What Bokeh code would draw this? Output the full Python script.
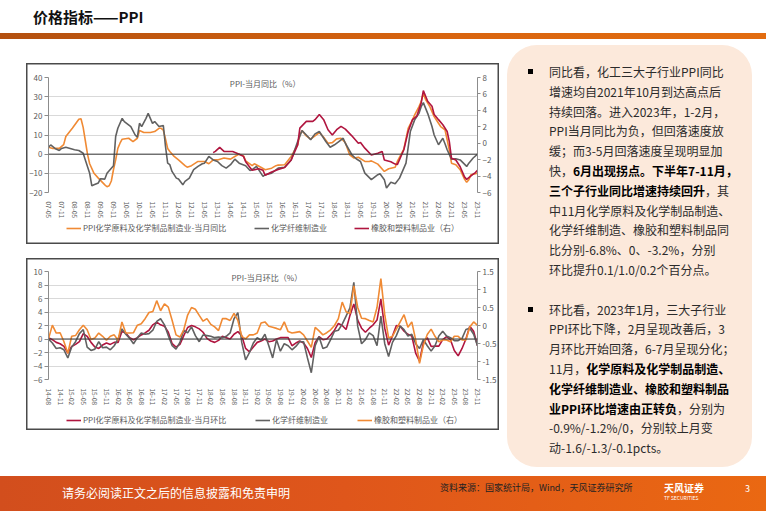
from bokeh.plotting import figure
from bokeh.models import (Range1d, LinearAxis, FixedTicker, Span, Legend, LegendItem,
                          Label, Div, Spacer)
from bokeh.layouts import column, row
from bokeh.embed import file_html
from bokeh.resources import INLINE

FONT = "Noto Sans CJK SC"

# ---------------- top chart: PPI YoY (%) ----------------
yoy_ticks = ["07-05", "07-11", "08-05", "08-11", "09-05", "09-11", "10-05", "10-11", "11-05",
             "11-11", "12-05", "12-11", "13-05", "13-11", "14-05", "14-11", "15-05", "15-11",
             "16-05", "16-11", "17-05", "17-11", "18-05", "18-11", "19-05", "19-11", "20-05",
             "20-11", "21-05", "21-11", "22-05", "22-11", "23-05", "23-11"]

chem_yoy_dates = ["2007-05", "2007-07", "2007-10", "2007-12", "2008-01", "2008-04", "2008-07",
                  "2008-08", "2008-09", "2008-10", "2008-11", "2008-12", "2009-02", "2009-04",
                  "2009-07", "2009-08", "2009-09", "2009-10", "2009-11", "2009-12", "2010-01",
                  "2010-02", "2010-03", "2010-06", "2010-08", "2010-10", "2010-11", "2011-01",
                  "2011-04", "2011-06", "2011-08", "2011-09", "2011-10", "2011-11", "2011-12",
                  "2012-01", "2012-03", "2012-05", "2012-08", "2012-09", "2012-11", "2013-02",
                  "2013-05", "2013-07", "2013-09", "2013-11", "2014-02", "2014-05", "2014-07",
                  "2014-09", "2014-11", "2014-12", "2015-03", "2015-04", "2015-07", "2015-09",
                  "2015-12", "2016-02", "2016-03", "2016-06", "2016-09", "2016-12", "2017-01",
                  "2017-02", "2017-04", "2017-06", "2017-08", "2017-10", "2017-12", "2018-02",
                  "2018-04", "2018-06", "2018-08", "2018-10", "2018-12", "2019-02", "2019-04",
                  "2019-07", "2019-09", "2019-10", "2020-01", "2020-04", "2020-06", "2020-09",
                  "2020-10", "2021-01", "2021-03", "2021-05", "2021-06", "2021-08", "2021-09",
                  "2021-10", "2021-11", "2022-01", "2022-03", "2022-05", "2022-06", "2022-08",
                  "2022-09", "2022-10", "2022-11", "2023-01", "2023-03", "2023-05", "2023-06",
                  "2023-07", "2023-08", "2023-10", "2023-11"]
chem_yoy = [3.6, 3.0, 3.0, 5.0, 9.2, 13.5, 18.2,
            18.5, 14.0, 7.0, 0.0, -5.0, -10.0, -12.5,
            -16.0, -17.0, -16.5, -14.0, -8.0, -3.0, 3.0,
            5.7, 7.8, 8.3, 6.6, 8.3, 12.3, 11.3,
            11.3, 11.8, 13.5, 13.5, 12.5, 8.0, 3.0,
            1.4, -1.2, -3.0, -6.0, -6.8, -6.0, -3.8,
            -3.8, -5.0, -3.0, -3.0, -2.0, -2.6, -1.2,
            0.0, -0.9, -3.5, -6.0, -5.0, -6.8, -8.1,
            -7.3, -6.0, -5.7, -5.5, -1.2, 4.9, 10.0,
            12.3, 9.5, 7.8, 9.5, 11.3, 8.8, 5.7,
            6.0, 8.0, 8.3, 6.0, -0.3, -2.0, -1.6,
            -3.8, -3.8, -3.5, -5.2, -9.0, -7.6, -6.8,
            -3.8, 2.6, 13.5, 17.9, 20.5, 24.8, 27.4,
            31.7, 28.6, 24.8, 19.6, 16.1, 14.4, 12.7,
            7.5, 2.0, -4.7, -5.5, -8.1, -13.0, -14.7,
            -13.3, -10.7, -10.2, -9.9]

fiber_yoy_dates = ["2007-05", "2007-06", "2007-08", "2007-10", "2007-11", "2008-01", "2008-03",
                   "2008-05", "2008-07", "2008-09", "2008-10", "2008-12", "2009-01", "2009-02",
                   "2009-04", "2009-05", "2009-07", "2009-08", "2009-10", "2009-11", "2009-12",
                   "2010-01", "2010-03", "2010-04", "2010-07", "2010-09", "2010-10", "2010-11",
                   "2010-12", "2011-02", "2011-03", "2011-04", "2011-05", "2011-06", "2011-08",
                   "2011-09", "2011-10", "2011-11", "2011-12", "2012-01", "2012-02", "2012-04",
                   "2012-05", "2012-07", "2012-08", "2012-10", "2012-12", "2013-02", "2013-04",
                   "2013-05", "2013-07", "2013-09", "2013-11", "2014-01", "2014-03", "2014-05",
                   "2014-07", "2014-09", "2014-12", "2015-02", "2015-03", "2015-05", "2015-08",
                   "2015-09", "2015-12", "2016-03", "2016-06", "2016-09", "2016-12", "2017-02",
                   "2017-04", "2017-06", "2017-08", "2017-10", "2018-01", "2018-03", "2018-05",
                   "2018-07", "2018-09", "2018-10", "2019-01", "2019-03", "2019-05", "2019-07",
                   "2019-10", "2020-01", "2020-02", "2020-04", "2020-05", "2020-07", "2020-09",
                   "2020-11", "2021-02", "2021-04", "2021-06", "2021-08", "2021-09", "2021-10",
                   "2021-12", "2022-02", "2022-03", "2022-05", "2022-06", "2022-07", "2022-08",
                   "2022-09", "2022-11", "2023-01", "2023-03", "2023-06", "2023-07", "2023-09",
                   "2023-11"]
fiber_yoy = [3.6, 4.8, 3.0, 1.9, 3.0, 3.6, 3.0,
             2.3, 1.9, 0.5, -3.0, -10.0, -16.5, -16.0,
             -15.0, -12.8, -13.0, -10.0, -7.3, -6.0, 9.2,
             13.5, 18.7, 17.0, 14.4, 10.0, 8.8, 16.1,
             14.4, 18.7, 21.3, 18.7, 16.1, 17.0, 14.4,
             14.7, 14.9, 4.0, -4.7, -5.5, -9.0, -12.5,
             -13.0, -16.0, -14.2, -12.5, -8.1, -6.4, -5.0,
             -4.7, -1.2, -3.0, -3.8, -6.0, -7.3, -5.5,
             -2.6, -4.7, -6.0, -8.5, -8.1, -6.4, -11.6,
             -10.7, -9.9, -7.3, -6.8, -3.0, 6.6, 12.3,
             10.0, 7.5, 10.6, 11.8, 6.6, 3.6, 4.9,
             6.6, 8.3, 5.7, -0.3, -2.4, -3.8, -9.9,
             -13.3, -10.7, -10.2, -13.3, -17.7, -14.7, -15.4,
             -12.5, -4.7, 11.8, 17.9, 21.3, 24.8, 26.9,
             21.3, 14.4, 10.0, 4.9, 6.6, 8.3, 5.4,
             2.3, -2.6, -2.4, -3.0, -6.4, -4.7, -2.0,
             0.0]

rubber_yoy_dates = ["2013-09", "2013-10", "2013-12", "2014-02", "2014-06", "2014-09", "2014-11",
                    "2014-12", "2015-02", "2015-03", "2015-06", "2015-08", "2015-09", "2015-12",
                    "2016-03", "2016-06", "2016-09", "2016-12", "2017-01", "2017-04", "2017-07",
                    "2017-08", "2017-10", "2017-12", "2018-02", "2018-04", "2018-06", "2018-08",
                    "2018-10", "2019-01", "2019-04", "2019-05", "2019-07", "2019-10", "2020-01",
                    "2020-03", "2020-04", "2020-07", "2020-09", "2020-10", "2021-01", "2021-03",
                    "2021-05", "2021-07", "2021-09", "2021-10", "2021-12", "2022-02", "2022-03",
                    "2022-05", "2022-07", "2022-09", "2022-10", "2022-11", "2023-01", "2023-03",
                    "2023-05", "2023-06", "2023-09", "2023-10", "2023-11"]
rubber_yoy = [-1.15, -1.0, -0.5, -1.0, -1.0, -1.35, -1.6,
              -2.25, -2.95, -3.3, -3.1, -3.3, -3.9, -3.5,
              -3.2, -2.95, -2.05, -0.2, 1.84, 2.66, 2.66,
              2.87, 3.5, 2.87, 1.64, 1.0, 1.64, 2.05,
              1.72, 0.9, 0.0, 0.08, -0.6, -1.43, -1.23,
              -1.0, -2.05, -2.25, -2.54, -2.6, -0.8, 1.43,
              2.87, 3.3, 4.9, 6.4, 5.1, 4.5, 3.5,
              2.87, 2.25, 1.43, 0.2, -1.84, -2.05, -2.87,
              -4.1, -4.4, -3.77, -3.57, -3.3]

# ---------------- bottom chart: PPI MoM (%), monthly from 2014-08 ----------------
mom_start = "2014-08"
mom_ticks = ["14-08", "14-11", "15-02", "15-05", "15-08", "15-11", "16-02", "16-05", "16-08",
             "16-11", "17-02", "17-05", "17-08", "17-11", "18-02", "18-05", "18-08", "18-11",
             "19-02", "19-05", "19-08", "19-11", "20-02", "20-05", "20-08", "20-11", "21-02",
             "21-05", "21-08", "21-11", "22-02", "22-05", "22-08", "22-11", "23-02", "23-05",
             "23-08", "23-11"]
chem_mom = [0.2, -0.1, -0.5, -0.7, -1.1, -2.1, -1.1, -0.8, -0.4, 0.8,
            0.4, -0.5, -1.2, -1.4, -0.9, -0.6, -0.8, -0.5, -0.5, 1.1,
            0.9, 0.2, -0.1, 0.2, 0.6, 0.9, 1.3, 2.1, 2.5, 2.1,
            1.9, 1.0, -0.7, -1.2, -0.8, 0.5, 1.7, 2.0, 1.8, 1.5,
            1.0, 0.1, -0.3, -0.5, -0.2, 0.4, 0.2, 0.0, 0.7, 1.1,
            0.5, -1.4, -1.9, -1.2, -0.5, -0.3, 0.0, -0.4, -0.3, 0.0,
            0.2, 0.2, 0.2, -1.0, -0.6, -0.3, -0.6, -1.4, -2.75, -0.5,
            0.35, -0.1, 0.0, 0.6, 1.3, 2.3, 2.0, 1.4, 3.5, 5.2,
            2.8, 1.6, 1.0, 1.6, 2.1, 2.8, 5.9, 1.6, -0.9, 0.45,
            2.0, 1.9, 1.15, 0.7, 0.45, -2.1, -3.3, -0.5, 0.2, -1.1,
            -1.05, -1.05, -0.1, 0.35, -0.1, -1.7, -2.5, -1.4, 0.0, 1.9,
            1.15, -1.0]
fiber_mom = [0.0, -0.6, -1.4, -1.3, -1.6, -2.8, -1.2, -0.4, 0.8, 1.4,
             -1.2, -1.7, -1.5, -0.4, -1.3, -1.2, -1.6, -1.0, 0.0, 1.5,
             0.7, 0.1, -0.7, 0.2, 0.9, 0.7, 0.8, 1.3, 2.6, 3.0,
             2.1, 0.5, -1.0, -1.5, -0.5, 1.3, 0.9, 1.8, 0.5, -0.4,
             0.6, 0.5, 0.4, 0.2, 0.3, 0.2, 0.4, 0.9, 3.0, 3.9,
             -0.5, -3.1, -2.0, -0.6, 0.2, -0.2, 0.7, -1.0, -2.8, -0.1,
             -1.8, -0.7, -1.0, -1.6, -1.1, -0.4, -0.4, -2.8, -5.0, -1.0,
             0.35, -1.4, -1.2, -0.1, 1.15, 1.3, 2.2, 3.4, 4.6, 8.4,
             1.9, -0.7, -0.1, 0.9, 0.5, -1.0, 3.4, -0.7, -2.6, -0.5,
             0.5, 1.9, 1.4, 0.45, 0.7, -0.7, -1.4, -0.1, -1.0, -1.8,
             -1.0, 0.45, 1.15, 0.45, 0.2, -0.25, -0.25, 0.1, 1.4, 1.6,
             0.7, -1.0]
rubber_mom = [-0.37, 0.01, -0.21, -0.20, -0.45, -0.77, -0.30, -0.28, -0.12, 0.01,
              -0.12, -0.39, -0.35, -0.21, -0.30, -0.41, -0.30, -0.26, -0.41, 0.10,
              -0.21, -0.21, -0.20, 0.01, 0.05, 0.19, 0.36, 0.39, 0.69, 0.41,
              0.60, 0.51, 0.14, -0.26, -0.32, -0.12, 0.29, 0.50, 0.45, 0.28,
              0.12, 0.19, 0.03, -0.04, -0.14, 0.19, 0.19, 0.14, 0.34, 0.14,
              -0.30, -0.37, -0.26, -0.26, -0.21, 0.07, 0.10, -0.02, -0.05, -0.08,
              -0.12, 0.10, -0.17, -0.21, -0.19, -0.17, -0.26, -0.43, -0.61, -0.05,
              -0.15, -0.26, -0.20, -0.12, 0.0, 0.19, 0.65, 0.38, 0.33, 1.1,
              0.50, 0.20, 0.19, 0.14, 0.10, 0.5, 1.3, 0.3, -0.35, -0.30,
              -0.10, 0.10, 0.30, -0.05, 0.10, -0.40, -1.05, -0.55, -0.25, -0.10,
              -0.30, -0.45, -0.40, -0.40, -0.45, -0.30, -0.30, -0.40, -0.40, -0.04,
              0.10, 0.0]

yoy_left_ticks = [-20, -10, 0, 10, 20, 30, 40]
yoy_right_ticks = [-6, -4, -2, 0, 2, 4, 6, 8]
mom_left_ticks = [-6, -4, -2, 0, 2, 4, 6, 8, 10]
mom_right_ticks = [-1.5, -1.0, -0.5, 0.0, 0.5, 1.0, 1.5]
mom_right_labels = ["-1.5", "-1", "-0.5", "0", "0.5", "1", "1.5"]

labels_yoy = ["PPI化学原料及化学制品制造业-当月同比", "化学纤维制造业", "橡胶和塑料制品业（右）"]
labels_mom = ["PPI化学原料及化学制品制造业-当月环比", "化学纤维制造业", "橡胶和塑料制品业（右）"]

ORANGE = "#F08A34"
GRAY = "#616161"
RED = "#B0153F"
TICK = "#595959"
EDGE = "#4A4A4A"


def months_since(d, base):
    y, m = (int(v) for v in d.split("-"))
    by, bm = (int(v) for v in base.split("-"))
    return (y - by) * 12 + (m - bm)


def short_idx(lbl, base):
    yy, mm = lbl.split("-")
    return months_since(f"20{yy}-{mm}", base)


def style_chart(p, xticks, xlabels, lticks, rtick_model, rlabels=None):
    p.xaxis.ticker = FixedTicker(ticks=xticks)
    p.xaxis.major_label_overrides = {t: l for t, l in zip(xticks, xlabels)}
    p.xaxis.major_label_orientation = "vertical"
    p.xaxis.axis_line_color = None
    p.xaxis.major_tick_line_color = None
    p.xaxis.minor_tick_line_color = None
    p.xaxis.major_label_standoff = 3
    p.xaxis.major_label_text_font_size = "6.5px"
    p.xaxis.major_label_text_font = FONT
    p.xaxis.major_label_text_color = TICK
    p.yaxis.ticker = FixedTicker(ticks=lticks)
    p.yaxis.axis_line_color = "#8C8C8C"
    p.yaxis.major_tick_line_color = "#8C8C8C"
    p.yaxis.major_tick_out = 4
    p.yaxis.major_tick_in = 0
    p.yaxis.minor_tick_line_color = None
    p.yaxis.major_label_standoff = 2
    p.yaxis.major_label_text_font_size = "8px"
    p.yaxis.major_label_text_font = FONT
    p.yaxis.major_label_text_color = TICK
    p.xgrid.visible = False
    p.ygrid.ticker = FixedTicker(ticks=lticks)
    p.ygrid.grid_line_color = "#D9D9D9"
    p.ygrid.grid_line_width = 1
    ax = LinearAxis(y_range_name="r", ticker=FixedTicker(ticks=rtick_model))
    if rlabels:
        ax.major_label_overrides = {t: l for t, l in zip(rtick_model, rlabels)}
    ax.axis_line_color = "#8C8C8C"
    ax.major_tick_line_color = "#8C8C8C"
    ax.major_tick_out = 3
    ax.major_tick_in = 0
    ax.minor_tick_line_color = None
    ax.major_label_standoff = 2
    ax.major_label_text_font_size = "8px"
    ax.major_label_text_font = FONT
    ax.major_label_text_color = TICK
    p.add_layout(ax, "right")
    p.add_layout(Span(location=0, dimension="width", line_color="#3A3A3A", line_width=1))


TOP_EDGES = {"box-shadow": f"inset 1.5px 1.5px 0 0 {EDGE}, inset -1.5px 0 0 0 {EDGE}",
             "background": "#FFFFFF"}
BOTTOM_EDGES = {"box-shadow": f"inset 1.5px -1.5px 0 0 {EDGE}, inset -1.5px 0 0 0 {EDGE}",
                "background": "#FFFFFF"}
NAN = float("nan")


def legend_strip(height, colors, texts, xs_px, y_px):
    """A strip below the chart that carries its legend (keys drawn by the legend itself)."""
    lf = figure(width=473, height=height, x_range=Range1d(0, 1), y_range=Range1d(0, 1),
                output_backend="svg", toolbar_location=None, title=None,
                x_axis_location=None, y_axis_location=None, min_border=0,
                min_border_left=0, min_border_right=0, min_border_top=0, min_border_bottom=0,
                background_fill_color=None, border_fill_color=None, outline_line_color=None,
                styles=BOTTOM_EDGES)
    lf.xgrid.visible = False
    lf.ygrid.visible = False
    for c, t, x in zip(colors, texts, xs_px):
        key = lf.line(x=[NAN], y=[NAN], line_color=c, line_width=1.6)
        leg = Legend(items=[LegendItem(label=t, renderers=[key])], location=(x, y_px),
                     orientation="horizontal", border_line_color=None,
                     background_fill_alpha=0, padding=0, margin=0, spacing=0,
                     glyph_width=15, glyph_height=8, label_height=8, label_standoff=2,
                     label_text_font=FONT, label_text_font_size="8px",
                     label_text_color=TICK, label_text_baseline="middle")
        lf.add_layout(leg)
    return lf


# ---- top chart ----
base_yoy = "2007-05"
p1 = figure(width=473, height=158, x_range=Range1d(0, 198), y_range=Range1d(-20, 40),
            output_backend="svg", toolbar_location=None, title=None,
            min_border_left=22, min_border_right=12, min_border_top=14, min_border_bottom=29,
            background_fill_color="#FFFFFF", border_fill_color=None, outline_line_color=None,
            styles=TOP_EDGES)
p1.extra_y_ranges = {"r": Range1d(-6, 8)}
style_chart(p1, [short_idx(t, base_yoy) for t in yoy_ticks], yoy_ticks, yoy_left_ticks, yoy_right_ticks)
p1.line([months_since(d, base_yoy) for d in chem_yoy_dates], chem_yoy,
        line_color=ORANGE, line_width=1.6)
p1.line([months_since(d, base_yoy) for d in fiber_yoy_dates], fiber_yoy,
        line_color=GRAY, line_width=1.6)
p1.line([months_since(d, base_yoy) for d in rubber_yoy_dates], rubber_yoy,
        line_color=RED, line_width=1.6, y_range_name="r")
p1.add_layout(Label(x=100, y=40, text="PPI-当月同比（%）", text_align="center",
                    text_baseline="top", text_font=FONT, text_font_size="8px",
                    text_color=TICK))
leg1 = legend_strip(23, [ORANGE, GRAY, RED], labels_yoy, [18, 206, 306], 11)

# ---- bottom chart ----
p2 = figure(width=473, height=150, x_range=Range1d(0, 111), y_range=Range1d(-6, 10),
            output_backend="svg", toolbar_location=None, title=None,
            min_border_left=22, min_border_right=19, min_border_top=13, min_border_bottom=24,
            background_fill_color="#FFFFFF", border_fill_color=None, outline_line_color=None,
            styles=TOP_EDGES)
p2.extra_y_ranges = {"r": Range1d(-1.5, 1.5)}
style_chart(p2, [short_idx(t, mom_start) for t in mom_ticks], mom_ticks, mom_left_ticks,
            mom_right_ticks, mom_right_labels)
xs = list(range(len(chem_mom)))
p2.line(xs, chem_mom, line_color=RED, line_width=1.6)
p2.line(xs, fiber_mom, line_color=GRAY, line_width=1.6)
p2.line(xs, rubber_mom, line_color=ORANGE, line_width=1.6, y_range_name="r")
p2.add_layout(Label(x=56.5, y=10, text="PPI-当月环比（%）", text_align="center",
                    text_baseline="top", text_font=FONT, text_font_size="8px",
                    text_color=TICK))
leg2 = legend_strip(22, [RED, GRAY, ORANGE], labels_mom, [18, 207, 309], 5)

# ---- slide title ----
title_html = (
    "<div style=\"position:relative;width:766px;height:45px;font-family:'Noto Sans CJK SC',sans-serif;\">"
    "<div style=\"position:absolute;left:33px;top:7px;font-size:15px;line-height:20px;font-weight:bold;"
    "color:#111;white-space:nowrap;\">价格指标——PPI</div>"
    "<div style=\"position:absolute;left:0;top:33px;width:766px;height:6px;"
    "background:linear-gradient(90deg,#B3500F,#D9650F 60%,#E26C10);\"></div></div>")
title_div = Div(text=title_html, width=766, height=45, margin=0)

# ---- commentary panel ----
R = "color:#2B2B2B"


def b(s):
    return f"<b style='color:#000'>{s}</b>"


para1 = ["同比看，化工三大子行业PPI同比",
         "增速均自2021年10月到达高点后",
         "持续回落。进入2023年，1-2月，",
         "PPI当月同比为负，但回落速度放",
         "缓；而3-5月回落速度呈现明显加",
         "快，" + b("6月出现拐点。下半年7-11月，"),
         b("三个子行业同比增速持续回升") + "，其",
         "中11月化学原料及化学制品制造、",
         "化学纤维制造、橡胶和塑料制品同",
         "比分别-6.8%、0、-3.2%，分别",
         "环比提升0.1/1.0/0.2个百分点。"]
para2 = ["环比看，2023年1月，三大子行业",
         "PPI环比下降，2月呈现改善后，3",
         "月环比开始回落，6-7月呈现分化；",
         "11月，" + b("化学原料及化学制品制造、"),
         b("化学纤维制造业、橡胶和塑料制品"),
         b("业PPI环比增速由正转负") + "，分别为",
         "-0.9%/-1.2%/0，分别较上月变",
         "动-1.6/-1.3/-0.1pcts。"]


def para(lines):
    return ("<div style='position:relative;padding-left:42px;'>"
            "<span style='position:absolute;left:21px;top:7px;width:5px;height:5px;background:#000;'></span>"
            + "<br>".join(lines) + "</div>")


panel_html = (
    "<div style=\"width:245px;height:422px;box-sizing:border-box;padding-top:17px;"
    "background:#FCE9DB;border-radius:30px;font-family:'Noto Sans CJK SC',sans-serif;"
    f"font-size:12px;line-height:19.8px;{R};white-space:nowrap;\">"
    + para(para1) + "<div style='height:19.8px'></div>" + para(para2) + "</div>")
panel_div = Div(text=panel_html, width=245, height=422, margin=0)

# ---- footer ----
footer_html = (
    "<div style=\"position:relative;width:766px;height:35px;"
    "background:linear-gradient(90deg,#D24E1D,#DF561B 45%,#EA6812);"
    "font-family:'Noto Sans CJK SC',sans-serif;white-space:nowrap;\">"
    "<div style='position:absolute;left:62px;top:8px;font-size:12px;line-height:18px;color:#FFF;'>"
    "请务必阅读正文之后的信息披露和免责申明</div>"
    "<div style='position:absolute;left:440px;top:5px;font-size:9px;line-height:14px;color:#222;'>"
    "资料来源：国家统计局，Wind，天风证券研究所</div>"
    "<div style='position:absolute;left:664px;top:6px;font-size:10px;line-height:12px;color:#FFF;font-weight:bold;'>"
    "天风证券</div>"
    "<div style='position:absolute;left:664px;top:19px;font-size:5px;line-height:6px;color:#FFF;'>"
    "TF SECURITIES</div>"
    "<div style='position:absolute;left:745px;top:7px;font-size:9px;line-height:12px;color:#FFF;'>3</div>"
    "</div>")
footer_div = Div(text=footer_html, width=766, height=35, margin=0)

left_col = column(Spacer(width=473, height=18), p1, leg1, Spacer(width=473, height=14), p2, leg2,
                  Spacer(width=473, height=46), spacing=0)
right_col = column(panel_div, Spacer(width=245, height=9), spacing=0)
mid = row(Spacer(width=26, height=431), left_col, Spacer(width=8, height=431), right_col,
          Spacer(width=14, height=431), spacing=0)
page = column(title_div, mid, footer_div, spacing=0)

open("out.html", "w").write(file_html(page, INLINE))
